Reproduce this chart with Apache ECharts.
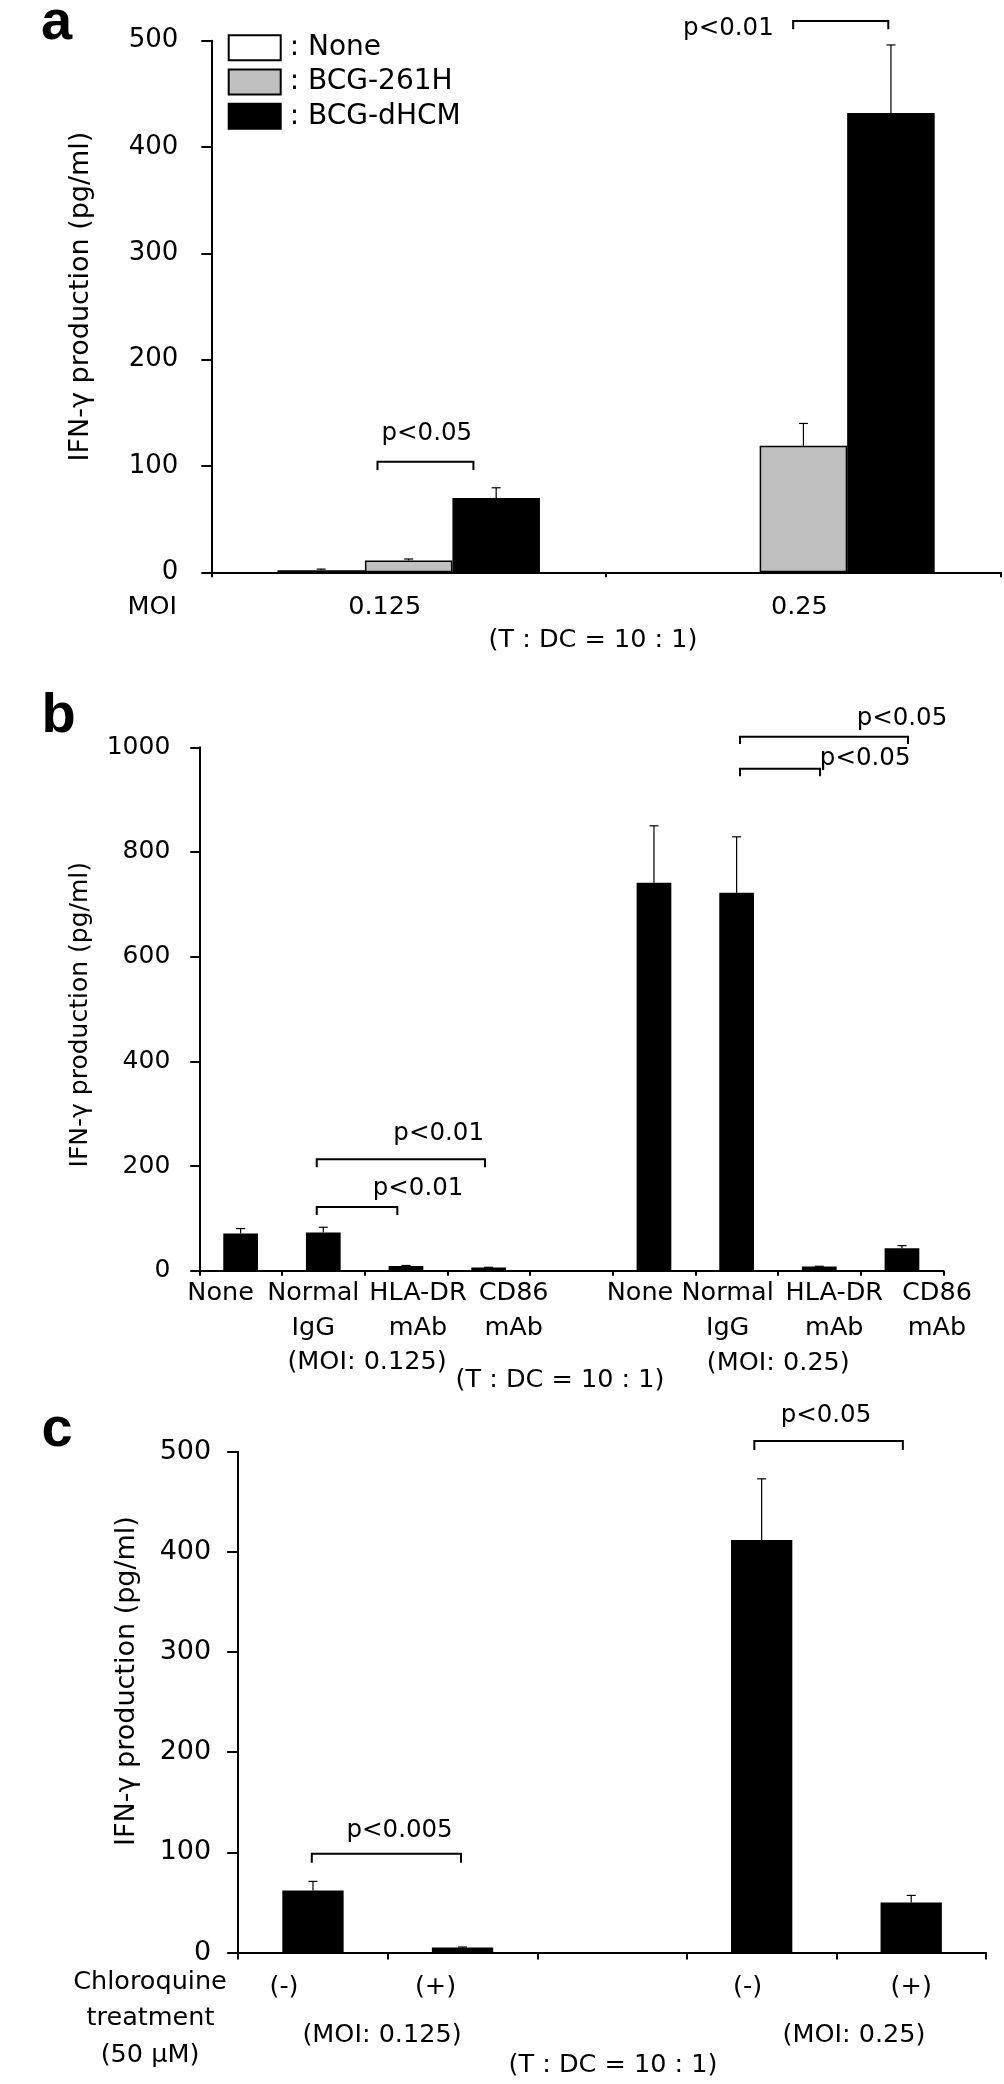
<!DOCTYPE html>
<html><head><meta charset="utf-8">
<script src="https://cdn.jsdelivr.net/npm/echarts@6/dist/echarts.min.js"></script>
<style>html,body{margin:0;padding:0;background:#fff}#c{width:1004px;height:2084px}</style>
</head><body><div id="c"></div>
<script>
// ---------- Panel a ----------
const aCategories = ['0.125', '0.25'];
const aSeriesNames = ['None', 'BCG-261H', 'BCG-dHCM'];
const aNone = [2, 0];
const aNoneErr = [1, 0];
const a261H = [11, 119];
const a261HErr = [1.5, 21];
const aDHCM = [70, 432];
const aDHCMErr = [9.5, 64];
const aYMax = 500, aYStep = 100;

// ---------- Panel b ----------
const bCategories = ['None', 'Normal\nIgG', 'HLA-DR\nmAb', 'CD86\nmAb', '', 'None', 'Normal\nIgG', 'HLA-DR\nmAb', 'CD86\nmAb'];
const bValues = [71, 73, 9, 6, '-', 741, 722, 8, 43];
const bErr = [9.5, 10, 1, 0.5, '-', 109, 107, 0.5, 5];
const bYMax = 1000, bYStep = 200;

// ---------- Panel c ----------
const cCategories = ['(-)', '(+)', '', '(-)', '(+)'];
const cValues = [62, 5, '-', 412, 50];
const cErr = [9, 0.5, '-', 61, 7];
const cYMax = 500, cYStep = 100;

// ---------- significance annotations (category-index units, value units) ----------
const aBrackets = [[-0.079, 0.164, 104.0, 96.2], [0.974, 1.215, 518.5, 510.7]];
const aPTexts = [['p<0.05', 0.046, 130.1, 'center'], ['p<0.01', 0.810, 511.2, 'center']];
const bBrackets = [[0.9205, 2.956, 212.8, 197.5], [0.9205, 1.8955, 121.7, 106.4],
                   [6.041, 8.073, 1020.1, 1006.1], [6.041, 7.009, 958.9, 944.9]];
const bPTexts = [['p<0.01', 2.944, 261.6, 'right'], ['p<0.01', 2.146, 156.5, 'center'],
                 ['p<0.05', 8.548, 1054.3, 'right'], ['p<0.05', 7.555, 977.9, 'center']];
const cBrackets = [[-0.008, 0.9896, 98.7, 89.7], [2.951, 3.944, 510.9, 501.9]];
const cPTexts = [['p<0.005', 0.579, 121.5, 'center'], ['p<0.05', 3.430, 536.0, 'center']];

// ---------- layout / style ----------
const FF = '"DejaVu Sans", sans-serif';
const aLabelShift = [-24, -4];
const bLabelShift = [-20, -10, 12, 25, 0, -14, -9, 15, 35];
const cLabelShift = [-29, -27, 0, -14, 0];

function richFor(shifts, size, lh) {
  const r = {};
  shifts.forEach((d, i) => {
    r['o' + i] = { fontFamily: FF, fontSize: size, color: '#000', lineHeight: lh,
      padding: d < 0 ? [0, -2 * d, 0, 0] : [0, 0, 0, 2 * d] };
  });
  return r;
}
function fmt(value, index) {
  if (!value) return '';
  return value.split('\n').map(s => '{o' + index + '|' + s + '}').join('\n');
}
function xAxis(grid, cats, shifts, margin, lh, tickLen) {
  return {
    type: 'category', gridIndex: grid, data: cats, boundaryGap: true,
    axisLine: { show: true, lineStyle: { color: '#000', width: 2 } },
    axisTick: { show: true, length: tickLen, interval: 0, lineStyle: { color: '#000', width: 2 } },
    axisLabel: { interval: 0, margin: margin, formatter: fmt, rich: richFor(shifts, 25.5, lh) },
    splitLine: { show: false }
  };
}
function yAxis(grid, max, step, margin, tickLen, size) {
  return {
    type: 'value', gridIndex: grid, min: 0, max: max, interval: step,
    axisLine: { show: true, lineStyle: { color: '#000', width: 2 } },
    axisTick: { show: true, length: tickLen, lineStyle: { color: '#000', width: 2 } },
    axisLabel: { margin: margin, color: '#000', fontFamily: FF, fontSize: size, formatter: v => String(v) },
    splitLine: { show: false }
  };
}
function barData(values) { return values.map(v => (v === 0 ? '-' : v)); }
function errSeries(grid, values, errs, k, n, gap) {
  const data = [];
  values.forEach((v, i) => { if (v !== '-' && v > 0 && errs[i] !== '-' && errs[i] > 0) data.push([i, v, errs[i]]); });
  return {
    type: 'custom', xAxisIndex: grid, yAxisIndex: grid, silent: true, z: 5,
    data: data, encode: { x: 0, y: 1 },
    renderItem(params, api) {
      const i = api.value(0), v = api.value(1), e = api.value(2);
      const band = api.size([1, 0])[0];
      const bw = band * (1 - gap) / n;
      const p0 = api.coord([i, v]);
      const cx = p0[0] + (k - (n - 1) / 2) * bw;
      const y1 = api.coord([i, v + e])[1];
      const st = { stroke: '#000', lineWidth: 1.2 };
      return { type: 'group', children: [
        { type: 'line', shape: { x1: cx, y1: p0[1], x2: cx, y2: y1 }, style: st },
        { type: 'line', shape: { x1: cx - 4.5, y1: y1, x2: cx + 4.5, y2: y1 }, style: st }
      ] };
    }
  };
}
function sigSeries(grid, brackets, texts) {
  return {
    type: 'custom', xAxisIndex: grid, yAxisIndex: grid, silent: true, z: 6, clip: false,
    data: [[0, 0]], encode: { x: 0, y: 1 },
    renderItem(params, api) {
      const band = api.size([1, 0])[0];
      const x0 = api.coord([0, 0])[0];
      const px = f => x0 + f * band;
      const py = v => api.coord([0, v])[1];
      const ch = [];
      brackets.forEach(b => {
        const xa = px(b[0]), xb = px(b[1]), y = py(b[2]), yl = py(b[3]);
        ch.push({ type: 'polyline', shape: { points: [[xa, yl], [xa, y], [xb, y], [xb, yl]] },
          style: { stroke: '#000', lineWidth: 2, fill: null } });
      });
      texts.forEach(t => {
        ch.push({ type: 'text', style: { text: t[0], x: px(t[1]), y: py(t[2]), fill: '#000',
          font: '24.5px ' + FF, align: t[3], verticalAlign: 'middle' } });
      });
      return { type: 'group', children: ch };
    }
  };
}
function T(text, x, y, font, align, rot) {
  return { type: 'text', x: x, y: y, rotation: rot || 0, silent: true,
    style: { text: text, fill: '#000', font: font || ('25.5px ' + FF), align: align || 'center', verticalAlign: 'middle' } };
}

const aGap = 0.335, bGap = 0.58, cGap = 0.59;
const chart = echarts.init(document.getElementById('c'), null, { renderer: 'canvas' });
chart.setOption({
  backgroundColor: '#fff',
  animation: false,
  grid: [
    { left: 211.3, top: 40.7, width: 789.5, height: 531.6 },
    { left: 199.3, top: 747.3, width: 744, height: 523.4 },
    { left: 238.2, top: 1451.8, width: 747.8, height: 500.7 }
  ],
  xAxis: [
    xAxis(0, aCategories, aLabelShift, 20, 30, 5),
    xAxis(1, bCategories, bLabelShift, 5, 35, 5),
    xAxis(2, cCategories, cLabelShift, 20, 30, 7)
  ],
  yAxis: [
    yAxis(0, aYMax, aYStep, 33, 10, 26),
    yAxis(1, bYMax, bYStep, 29, 9, 25),
    yAxis(2, cYMax, cYStep, 27, 11, 27)
  ],
  legend: {
    data: aSeriesNames, left: 222.7, top: 26.7, orient: 'vertical', icon: 'rect',
    itemWidth: 52, itemHeight: 25, itemGap: 2.3, selectedMode: false, formatter: ': {name}',
    itemStyle: { borderColor: '#000', borderWidth: 2 },
    textStyle: { fontFamily: FF, fontSize: 28, color: '#000', lineHeight: 25, padding: [7, 0, 0, 4] }
  },
  series: [
    { type: 'bar', name: aSeriesNames[0], xAxisIndex: 0, yAxisIndex: 0, data: barData(aNone), barGap: '0%', barCategoryGap: (aGap * 100) + '%',
      itemStyle: { color: '#ffffff', borderColor: '#000', borderWidth: 1.5 } },
    { type: 'bar', name: aSeriesNames[1], xAxisIndex: 0, yAxisIndex: 0, data: barData(a261H), barGap: '0%', barCategoryGap: (aGap * 100) + '%',
      itemStyle: { color: '#c0c0c0', borderColor: '#000', borderWidth: 1.5 } },
    { type: 'bar', name: aSeriesNames[2], xAxisIndex: 0, yAxisIndex: 0, data: barData(aDHCM), barGap: '0%', barCategoryGap: (aGap * 100) + '%',
      itemStyle: { color: '#000', borderColor: '#000', borderWidth: 1.5 } },
    errSeries(0, aNone, aNoneErr, 0, 3, aGap),
    errSeries(0, a261H, a261HErr, 1, 3, aGap),
    errSeries(0, aDHCM, aDHCMErr, 2, 3, aGap),
    sigSeries(0, aBrackets, aPTexts),

    { type: 'bar', name: 'b', xAxisIndex: 1, yAxisIndex: 1, data: bValues, barCategoryGap: (bGap * 100) + '%',
      itemStyle: { color: '#000' } },
    errSeries(1, bValues, bErr, 0, 1, bGap),
    sigSeries(1, bBrackets, bPTexts),

    { type: 'bar', name: 'c', xAxisIndex: 2, yAxisIndex: 2, data: cValues, barCategoryGap: (cGap * 100) + '%',
      itemStyle: { color: '#000' } },
    errSeries(2, cValues, cErr, 0, 1, cGap),
    sigSeries(2, cBrackets, cPTexts)
  ],
  graphic: [
    T('a', 56.5, 23.6, 'bold 56px "Liberation Sans", sans-serif'),
    T('b', 58.5, 716.6, 'bold 56px "Liberation Sans", sans-serif'),
    T('c', 57, 1430.2, 'bold 56px "Liberation Sans", sans-serif'),
    T('IFN-γ production (pg/ml)', 81, 296.5, '27px ' + FF, 'center', Math.PI / 2),
    T('IFN-γ production (pg/ml)', 80, 1014.7, '25px ' + FF, 'center', Math.PI / 2),
    T('IFN-γ production (pg/ml)', 126.5, 1681, '27px ' + FF, 'center', Math.PI / 2),
    T('MOI', 177, 607, null, 'right'),
    T('(T : DC = 10 : 1)', 593, 640),
    T('(MOI: 0.125)', 367, 1362),
    T('(MOI: 0.25)', 778.3, 1363),
    T('(T : DC = 10 : 1)', 560, 1380),
    T('Chloroquine', 150, 1982),
    T('treatment', 150.5, 2018),
    T('(50 μM)', 150, 2055),
    T('(MOI: 0.125)', 382, 2035),
    T('(MOI: 0.25)', 854, 2035),
    T('(T : DC = 10 : 1)', 613, 2065)
  ]
});
</script></body></html>
